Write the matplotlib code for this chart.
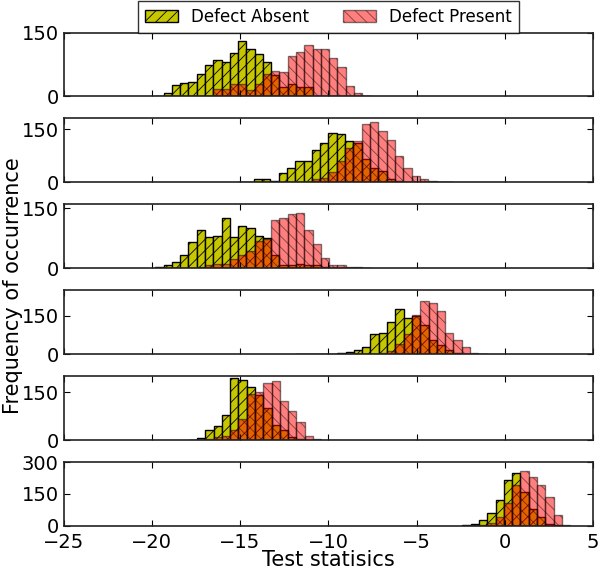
import matplotlib
matplotlib.use('Agg')
import matplotlib.pyplot as plt
import numpy as np

plt.rcParams['font.family'] = ['DejaVu Sans']
plt.rcParams['hatch.linewidth'] = 0.6

legend_labels = ['Defect Absent', 'Defect Present']
x_label = 'Test statisics'
y_label = 'Frequency of occurrence'
x_ticks = [-25, -20, -15, -10, -5, 0, 5]

# bins (left edge of first bin, bin width) per panel
bin_start = [-19.80, -15.17, -19.80, -11.84, -17.91, -2.40]
bin_width = [0.469, 0.471, 0.469, 0.470, 0.470, 0.470]

absent_1 = [2, 8, 27, 32, 35, 52, 74, 86, 80, 102, 130, 111, 99, 80, 50, 21, 30, 21, 21, 1, 0, 0, 0, 0, 0, 0]
present_1 = [0, 0, 0, 0, 0, 0, 1, 17, 17, 30, 30, 16, 30, 52, 60, 58, 95, 105, 120, 111, 111, 91, 68, 25, 9, 2]

absent_2 = [1, 1, 9, 9, 5, 25, 41, 61, 61, 90, 111, 140, 137, 116, 112, 66, 41, 32, 10, 3, 0, 0, 0, 0, 0, 0]
present_2 = [0, 0, 0, 0, 0, 0, 0, 0, 2, 10, 13, 29, 59, 96, 116, 165, 171, 144, 120, 75, 39, 17, 10, 3, 1, 1]

absent_3 = [2, 9, 16, 34, 66, 95, 79, 82, 125, 78, 106, 102, 82, 75, 32, 9, 9, 11, 9, 9, 2, 0, 0, 0, 0, 0]
present_3 = [0, 0, 0, 0, 0, 4, 9, 11, 10, 24, 34, 43, 69, 73, 121, 127, 136, 138, 97, 60, 26, 9, 9, 4, 3, 1]

absent_4 = [1, 0, 1, 1, 2, 4, 8, 18, 29, 77, 81, 126, 177, 142, 150, 115, 54, 36, 15, 3, 0, 0, 0]
present_4 = [0, 0, 0, 0, 0, 0, 0, 0, 0, 2, 5, 11, 40, 80, 153, 208, 201, 167, 84, 57, 29, 4, 1]

absent_5 = [1, 7, 30, 44, 79, 193, 187, 165, 140, 100, 48, 32, 10, 2, 0, 0]
present_5 = [0, 0, 2, 10, 11, 30, 66, 143, 150, 178, 184, 121, 90, 57, 13, 4]

absent_6 = [2, 10, 30, 60, 120, 215, 250, 160, 80, 40, 8, 2, 0]
present_6 = [0, 2, 5, 15, 40, 110, 190, 260, 230, 190, 135, 50, 5]

absent = [absent_1, absent_2, absent_3, absent_4, absent_5, absent_6]
present = [present_1, present_2, present_3, present_4, present_5, present_6]
y_max = [150, 180, 160, 250, 200, 300]
y_ticks = [[0, 150], [0, 150], [0, 150], [0, 150], [0, 150], [0, 150, 300]]

W, H = 600, 572
fig = plt.figure(figsize=(W / 100, H / 100), dpi=100)
fig.patch.set_facecolor('white')

left_px, right_px = 63.5, 593.0
top0, pitch, height = 32.6, 85.9, 63.8

axes = []
for i in range(6):
    top = top0 + i * pitch
    ax = fig.add_axes([left_px / W, 1 - (top + height) / H,
                       (right_px - left_px) / W, height / H])
    axes.append(ax)
    a = np.array(absent[i], dtype=float)
    p = np.array(present[i], dtype=float)
    lefts = bin_start[i] + bin_width[i] * np.arange(len(a))
    ax.bar(lefts, a, width=bin_width[i], align='edge', color=(0.78, 0.78, 0.0),
           edgecolor='black', linewidth=1.0, hatch='///',
           label=legend_labels[0] if i == 0 else None)
    ax.bar(lefts, p, width=bin_width[i], align='edge', color='red', alpha=0.5,
           edgecolor='black', linewidth=1.0, hatch='\\\\\\',
           label=legend_labels[1] if i == 0 else None)
    ax.set_xlim(-25, 5)
    ax.set_ylim(0, y_max[i])
    ax.set_yticks(y_ticks[i])
    ax.set_xticks(x_ticks)
    ax.tick_params(direction='in', top=True, right=True, length=4,
                   labelsize=14, width=0.8)
    ax.tick_params(axis='x', pad=5)
    for s in ax.spines.values():
        s.set_linewidth(1.2)
        s.set_color('#222222')
    if i < 5:
        ax.tick_params(labelbottom=False)
    else:
        ax.set_xticklabels([f'\u2212{abs(t)}' if t < 0 else str(t) for t in x_ticks])
        ax.set_xlabel(x_label, fontsize=15, labelpad=-1)

leg = axes[0].legend(loc='lower center', bbox_to_anchor=(0.5, 1.0), ncol=2,
                     fontsize=12, frameon=True, fancybox=False,
                     borderaxespad=0.0, columnspacing=2.0, handletextpad=0.8,
                     handlelength=2.0)
leg.get_frame().set_edgecolor('black')
leg.get_frame().set_linewidth(1.0)

fig.text(0.022, 0.5, y_label, rotation=90, va='center', ha='center', fontsize=15)

fig.savefig('out.png', dpi=100, facecolor='white')
